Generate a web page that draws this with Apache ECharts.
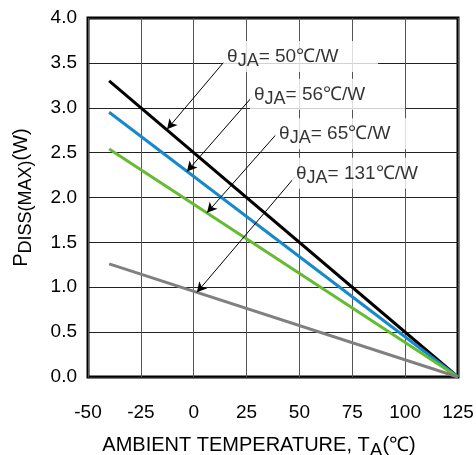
<!DOCTYPE html>
<html>
<head>
<meta charset="utf-8">
<script src="https://cdn.jsdelivr.net/npm/echarts@6/dist/echarts.min.js"></script>
<style>
  html, body { margin: 0; background: #fff; }
  #chart { width: 476px; height: 455px; }
</style>
</head>
<body>
<div id="chart"></div>
<script>
// 横坐标: 环境温度 (℃)
const temps = [-40, 125];
// 各热阻下的最大功耗 (W)
const p50 = [3.3, 0];
const p56 = [2.95, 0];
const p65 = [2.54, 0];
const p131 = [1.26, 0];
const thetas = ["50", "56", "65", "131"];
const colors = ["#000000", "#1788c9", "#66bb33", "#808080"];
// 标注文字的位置 [T, P]
const labelAt = [[13.9, 3.57], [26.6, 3.15], [38.5, 2.71], [46.5, 2.27]];
// 箭头起点 / 终点 [T, P]
const arrowFrom = [[14.3, 3.51], [27.6, 3.12], [38.9, 2.70], [47.9, 2.23]];
const arrowTo = [[-12.6, 2.76], [-3.2, 2.29], [6.3, 1.83], [1.5, 0.943]];

const font = "'Liberation Sans', Arial, sans-serif";
const powers = [p50, p56, p65, p131];

let chartDom = document.getElementById("chart");
let myChart = echarts.init(chartDom);

let series = powers.map((p, i) => ({
  type: "line",
  data: temps.map((t, k) => [t, p[k]]),
  symbol: "none",
  lineStyle: { color: colors[i], width: 3 },
  z: 3,
  markLine: {
    silent: true,
    symbol: ["none", "arrow"],
    symbolSize: [8, 10],
    label: { show: false },
    lineStyle: { color: "#000", width: 1, type: "solid" },
    data: [[{ coord: arrowFrom[i] }, { coord: arrowTo[i] }]],
  },
}));

// 标注文字
series.push({
  type: "scatter",
  symbolSize: 0,
  z: 5,
  data: labelAt.map((v, i) => ({ value: v, name: thetas[i] })),
  label: {
    show: true,
    position: "right",
    distance: 0,
    backgroundColor: "#fff",
    padding: [2, 4, 2, 4],
    width: 147,
    formatter: (d) => "{t|θ}{s|JA}{t|= " + d.name + "℃/W}",
    rich: {
      t: { fontFamily: font, fontSize: 19, color: "#000" },
      s: { fontFamily: font, fontSize: 18, color: "#000", padding: [9, 0, 0, 0] },
    },
  },
});

let options = {
  animation: false,
  grid: {
    left: 88,
    right: 18,
    top: 18,
    bottom: 78,
    outerBoundsMode: "none",
    show: true,
    borderColor: "#000",
    borderWidth: 3,
  },
  xAxis: {
    type: "value",
    min: -50,
    max: 125,
    interval: 25,
    name: "{p|AMBIENT TEMPERATURE, T}{s|A}{p|(℃)}",
    nameLocation: "middle",
    nameGap: 54,
    nameTextStyle: {
      padding: [0, 28, 0, 0],
      rich: {
        p: { fontFamily: font, fontSize: 20, color: "#000" },
        s: { fontFamily: font, fontSize: 19, color: "#000", padding: [10, 0, 0, 0] },
      },
    },
    axisLine: { show: false },
    axisTick: { show: false },
    axisLabel: { margin: 26, fontFamily: font, fontSize: 19, color: "#000" },
    splitLine: { show: true, lineStyle: { color: "#555", width: 1 } },
  },
  yAxis: {
    type: "value",
    min: 0,
    max: 4,
    interval: 0.5,
    name: "{p|P}{s|DISS(MAX)}{p|(W)}",
    nameLocation: "middle",
    nameRotate: 90,
    nameGap: 53,
    nameTextStyle: {
      rich: {
        p: { fontFamily: font, fontSize: 20, color: "#000" },
        s: { fontFamily: font, fontSize: 18, color: "#000", padding: [10, 0, 0, 0] },
      },
    },
    axisLine: { show: false },
    axisTick: { show: false },
    axisLabel: {
      margin: 11,
      fontFamily: font,
      fontSize: 19,
      color: "#000",
      formatter: (v) => v.toFixed(1),
    },
    splitLine: { show: true, lineStyle: { color: "#222", width: 1 } },
  },
  series: series,
};
options && myChart.setOption(options);
window.onresize = myChart.resize;
</script>
</body>
</html>
